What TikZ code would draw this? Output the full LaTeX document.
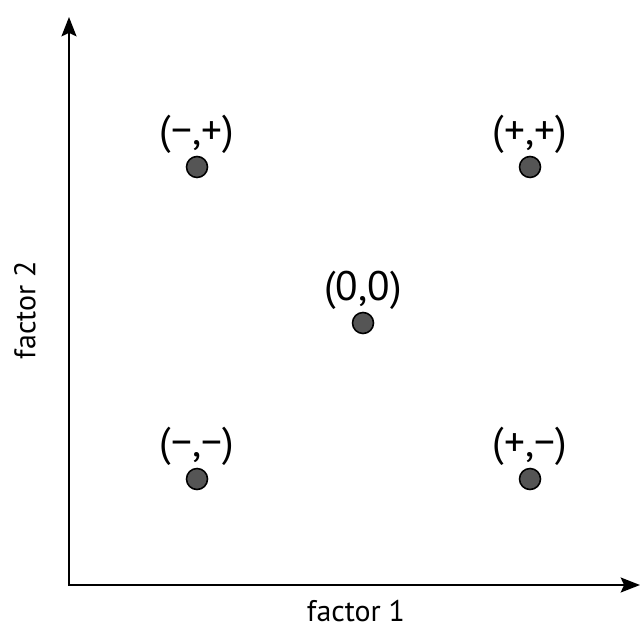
\documentclass[tikz,border=0pt]{standalone}
\usepackage{fontspec}
\setmainfont{PT Sans}
\usetikzlibrary{arrows.meta,positioning}
\definecolor{dotgray}{RGB}{85,85,85}

\begin{document}
\begin{tikzpicture}[x=0.02cm,y=-0.02cm,axis/.style={draw=black,line width=1.4pt,{Stealth[length=11pt,width=8.5pt,inset=2pt]}-{Stealth[length=11pt,width=8.5pt,inset=2pt]}},dot/.style={circle,draw=black,line width=0.9pt,fill=dotgray,minimum size=0.42cm,inner sep=0pt},lbl/.style={inner sep=1pt,text=black,font=\fontsize{17pt}{20pt}\selectfont},ptlbl/.style={lbl,font=\fontsize{23.5pt}{28pt}\selectfont}]
\useasboundingbox (0,0) rectangle (641,634);
\coordinate (o) at (69,585);
\coordinate (ytip) at (69,17);
\coordinate (xtip) at (640,585);
\draw[axis] (ytip) -- (o) -- (xtip);
\node[lbl] (xlab) at (356,611) {factor 1};
\node[lbl,rotate=90] (ylab) at (25,310) {factor 2};
\node[dot] (mp) at (197,167) {};
\node[dot] (pp) at (530,167) {};
\node[dot] (zz) at (363,323) {};
\node[dot] (mm) at (197,479) {};
\node[dot] (pm) at (530,479) {};
\node[ptlbl,above=0pt of mp] {(−,+)};
\node[ptlbl,above=0pt of pp] {(+,+)};
\node[ptlbl,above=0pt of zz] {(0,0)};
\node[ptlbl,above=0pt of mm] {(−,−)};
\node[ptlbl,above=0pt of pm] {(+,−)};
\end{tikzpicture}
\end{document}
